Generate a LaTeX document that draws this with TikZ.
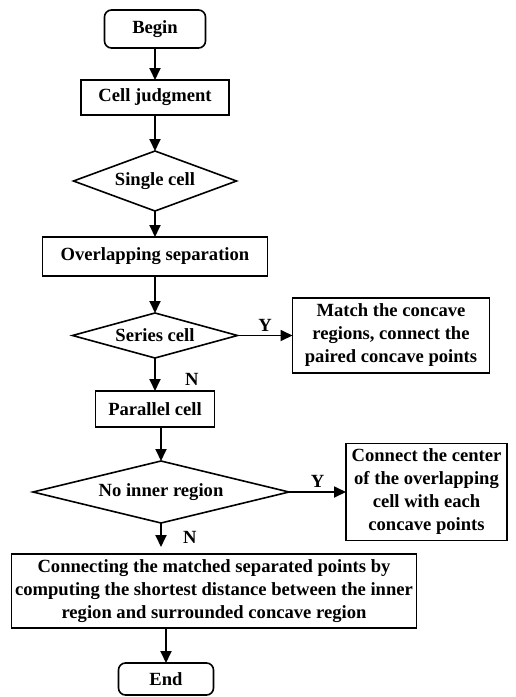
\documentclass[tikz,border=0pt]{standalone}
\usepackage{fontspec}
\setmainfont{Liberation Serif}
\usetikzlibrary{shapes.geometric,arrows.meta,positioning}

\begin{document}
\begin{tikzpicture}[
    %–––– GLOBAL STYLE TWEAKS ––––
    font=\fontsize{18.6}{23}\selectfont\bfseries,   % Times-like bold text
    >={Triangle[length=12pt,width=11pt]},
    line width=1.6pt,
    block/.style    = {rectangle, draw=black, align=center, inner sep=1pt, outer sep=0pt},
    term/.style     = {block, rounded corners=7pt},
    decision/.style = {diamond, draw=black, inner sep=0pt, outer sep=0pt},
    arrow/.style    = {->, line width=1.8pt},
]
\useasboundingbox (0pt,0pt) rectangle (515pt,-697pt);

%–––– MAIN FLOW ––––
\node (begin)    [term, minimum width=101pt, minimum height=38pt] at (155pt,-29pt) {Begin};

\node (judge)    [block, minimum width=148pt, minimum height=35pt, below=32pt of begin] {Cell judgment};

\node (single)   [decision, aspect=2.7, minimum width=163pt, minimum height=60pt, below=36pt of judge] {Single cell};

\node (overlap)  [block, minimum width=225pt, minimum height=39pt, below=26pt of single] {Overlapping separation};

\node (series)   [decision, aspect=3.6, minimum width=165pt, minimum height=45pt, below=37pt of overlap] {Series cell};

\node (parallel) [block, minimum width=119pt, minimum height=36pt, below=33pt of series] {Parallel cell};

\node (noinner)  [decision, aspect=4.1, minimum width=256pt, minimum height=62pt, below=34pt of parallel, xshift=6pt] {No inner region};

\node (shortest) [block, minimum width=405pt, minimum height=74pt, below=31pt of noinner, xshift=53pt]
                 {Connecting the matched separated points by\\
                  computing the shortest distance between the inner\\
                  region and surrounded concave region};

\node (end)      [term, minimum width=95pt, minimum height=32pt, below=35pt of shortest, xshift=-48pt] {End};

%–––– SIDE BRANCHES ––––
\node (match)    [block, minimum width=197pt, minimum height=75pt, right=55pt of series]
                 {Match the concave\\regions, connect the\\paired concave points};

\node (center)   [block, minimum width=161pt, minimum height=97pt, right=57pt of noinner]
                 {Connect the center\\of the overlapping\\cell with each\\concave points};

%–––– ARROWS ––––
\foreach \a/\b in {begin/judge, judge/single, single/overlap, overlap/series}
  \draw[arrow] (\a) -- (\b);

\draw[arrow] (series) -- node[right=26pt, pos=0.65] {N} (parallel);
\draw[arrow] (series) -- node[above] {Y} (match);
\draw[arrow] (parallel.south -| noinner.north) -- (noinner.north);
\draw[arrow] (noinner.east) -- node[above] {Y} (noinner.east -| center.west);
\draw[arrow, shorten >=7pt] (noinner.south) -- node[right=18pt, pos=0.45] {N} (noinner.south |- shortest.north);
\draw[arrow] (shortest.south -| end.north) -- (end.north);
\end{tikzpicture}
\end{document}
